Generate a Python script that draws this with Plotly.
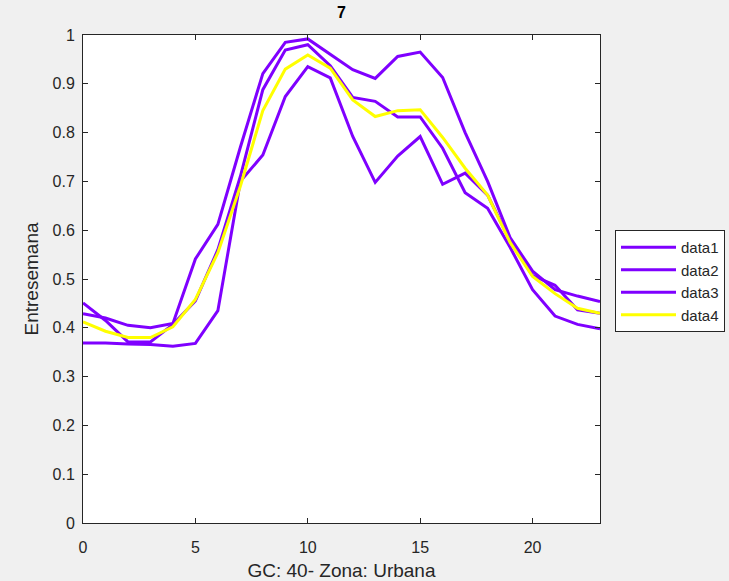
import plotly.graph_objects as go

# Hour of day (0-23)
hours = list(range(24))

# Normalised weekday load profiles
data1 = [0.429, 0.420, 0.405, 0.400, 0.409, 0.541, 0.612, 0.770, 0.921, 0.985,
         0.992, 0.960, 0.929, 0.911, 0.956, 0.965, 0.913, 0.800, 0.700, 0.585,
         0.516, 0.478, 0.465, 0.454]
data2 = [0.369, 0.369, 0.367, 0.366, 0.362, 0.368, 0.435, 0.700, 0.754, 0.874,
         0.935, 0.912, 0.792, 0.698, 0.752, 0.792, 0.694, 0.717, 0.672, 0.578,
         0.507, 0.487, 0.437, 0.430]
data3 = [0.451, 0.415, 0.371, 0.371, 0.407, 0.455, 0.560, 0.710, 0.888, 0.969,
         0.980, 0.937, 0.872, 0.864, 0.832, 0.832, 0.768, 0.677, 0.645, 0.565,
         0.478, 0.424, 0.407, 0.398]
data4 = [0.412, 0.393, 0.380, 0.380, 0.402, 0.458, 0.554, 0.690, 0.845, 0.930,
         0.959, 0.932, 0.867, 0.833, 0.845, 0.847, 0.790, 0.727, 0.672, 0.575,
         0.505, 0.470, 0.440, 0.430]

series_names = ["data1", "data2", "data3", "data4"]
series_values = [data1, data2, data3, data4]
series_colors = ["#7F00FF", "#7F00FF", "#7F00FF", "#FFFF00"]

x_ticks = [0, 5, 10, 15, 20]
y_ticks = [0, 0.1, 0.2, 0.3, 0.4, 0.5, 0.6, 0.7, 0.8, 0.9, 1]
y_tick_text = ["0", "0.1", "0.2", "0.3", "0.4", "0.5", "0.6", "0.7", "0.8", "0.9", "1"]

W, H = 729, 581
L, R, T, B = 83, 129, 35, 58

fig = go.Figure()
for name, vals, col in zip(series_names, series_values, series_colors):
    fig.add_trace(go.Scatter(
        x=hours, y=vals, mode="lines", name=name,
        line=dict(color=col, width=3),
    ))

axis_color = "#262626"
font_family = "Liberation Sans, Arial, Helvetica, sans-serif"

fig.update_layout(
    width=W, height=H,
    margin=dict(l=L, r=R, t=T, b=B, autoexpand=False),
    paper_bgcolor="#F0F0F0",
    plot_bgcolor="#FFFFFF",
    font=dict(family=font_family, color=axis_color, size=16),
    title=dict(
        text="<b>7</b>", x=(L + (W - L - R) / 2) / W, xanchor="center",
        y=1 - 12 / H, yanchor="middle",
        font=dict(size=16, color="#000000", family=font_family),
    ),
    showlegend=True,
    legend=dict(
        x=(615 - L) / (W - L - R), y=(H - B - 230) / (H - T - B),
        xanchor="left", yanchor="top",
        bgcolor="#FFFFFF", bordercolor=axis_color, borderwidth=1,
        font=dict(size=15, color=axis_color, family=font_family),
        itemwidth=55, tracegroupgap=0,
    ),
    xaxis=dict(
        range=[0, 23], tickvals=x_ticks, ticks="inside", ticklen=5,
        tickcolor=axis_color, showline=True, linecolor=axis_color, linewidth=1,
        mirror="ticks", showgrid=False, zeroline=False,
        tickfont=dict(size=16, color=axis_color),
        ticklabelstandoff=10,
        title=dict(text="GC: 40- Zona: Urbana", font=dict(size=19, color=axis_color), standoff=10),
    ),
    yaxis=dict(
        range=[0, 1], tickvals=y_ticks, ticktext=y_tick_text, ticks="inside", ticklen=5,
        tickcolor=axis_color, showline=True, linecolor=axis_color, linewidth=1,
        mirror="ticks", showgrid=False, zeroline=False,
        tickfont=dict(size=16, color=axis_color),
        ticklabelstandoff=4,
        title=dict(text="Entresemana", font=dict(size=19, color=axis_color), standoff=8),
    ),
)

fig.write_html("out.html")
